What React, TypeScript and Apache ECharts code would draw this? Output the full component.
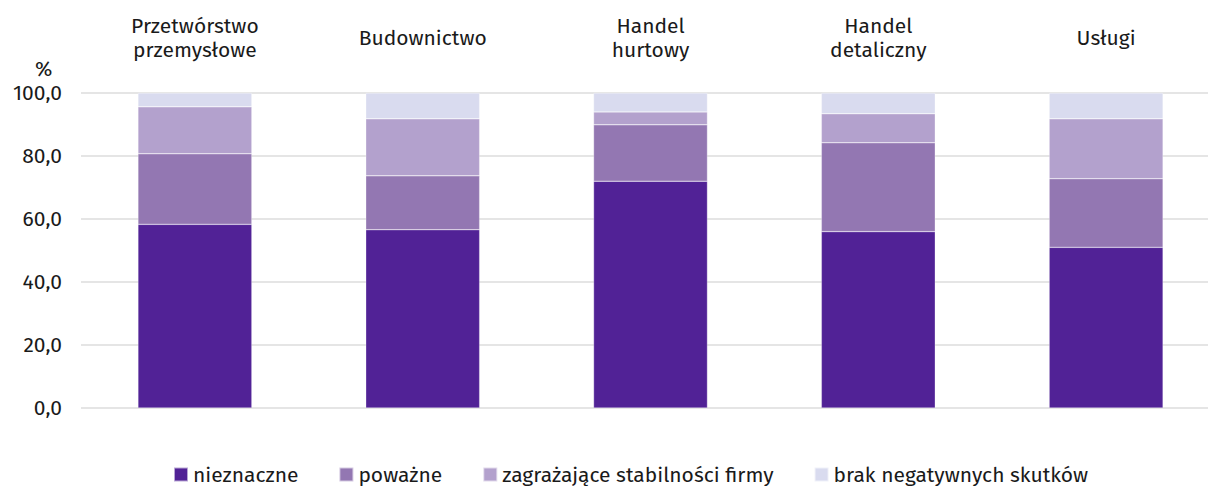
import React, { useEffect, useRef } from "react";
import * as echarts from "echarts";

const categories = ["Przetwórstwo\nprzemysłowe", "Budownictwo", "Handel\nhurtowy", "Handel\ndetaliczny", "Usługi"];
const seriesNames = ["nieznaczne", "poważne", "zagrażające stabilności firmy", "brak negatywnych skutków"];
const nieznaczne = [58.3, 56.6, 72.0, 56.0, 51.0];
const powazne = [22.4, 17.1, 17.9, 28.2, 21.8];
const zagrazajace = [14.9, 18.1, 4.1, 9.2, 19.0];
const brak = [4.4, 8.2, 6.0, 6.6, 8.2];
const colors = ["#512296", "#9377b2", "#b3a1cd", "#d9dbef"];

const FONT = "'Fira Sans', 'Noto Sans', sans-serif";
const FS = 21;

export default function App() {
  const ref = useRef<HTMLDivElement>(null);
  useEffect(() => {
    document.body.style.margin = "0";
    if (!ref.current) return;
    const chart = echarts.init(ref.current, undefined, { renderer: "svg" });
    const values = [nieznaczne, powazne, zagrazajace, brak];
    chart.setOption({
      animation: false,
      color: colors,
      textStyle: { fontFamily: FONT, color: "#1a1a1a" },
      grid: { left: 81, width: 1139, top: 93, bottom: 78, containLabel: false, outerBoundsMode: "none" },
      xAxis: {
        type: "category",
        data: categories,
        position: "top",
        axisLine: { show: false },
        axisTick: { show: false },
        axisLabel: {
          fontSize: FS,
          color: "#1a1a1a",
          fontFamily: FONT,
          lineHeight: 24,
          verticalAlign: "middle",
          margin: 55,
          interval: 0,
        },
      },
      yAxis: {
        type: "value",
        min: 0,
        max: 100,
        interval: 20,
        axisLine: { show: false },
        axisTick: { show: false },
        splitLine: { lineStyle: { color: "#dcdcdc", width: 1.5 } },
        axisLabel: {
          fontSize: FS,
          color: "#1a1a1a",
          fontFamily: FONT,
          margin: 19,
          formatter: (v: number) => v.toFixed(1).replace(".", ","),
        },
      },
      legend: {
        top: 464,
        left: 173,
        itemWidth: 14,
        itemHeight: 14,
        itemGap: 40,
        icon: "rect",
        padding: 0,
        textStyle: { fontSize: FS, color: "#1a1a1a", fontFamily: FONT },
        data: seriesNames,
      },
      graphic: [
        {
          type: "text",
          left: 35,
          top: 58,
          style: { text: "%", fontSize: FS, fill: "#1a1a1a", fontFamily: FONT },
        },
      ],
      series: seriesNames.map((name, i) => ({
        name,
        type: "bar",
        stack: "total",
        data: values[i],
        barWidth: "50%",
        itemStyle: { color: colors[i], borderColor: "rgba(255,255,255,0.6)", borderWidth: 0.5 },
      })),
    });
    return () => chart.dispose();
  }, []);
  return <div ref={ref} style={{ width: 1208, height: 486 }} />;
}
